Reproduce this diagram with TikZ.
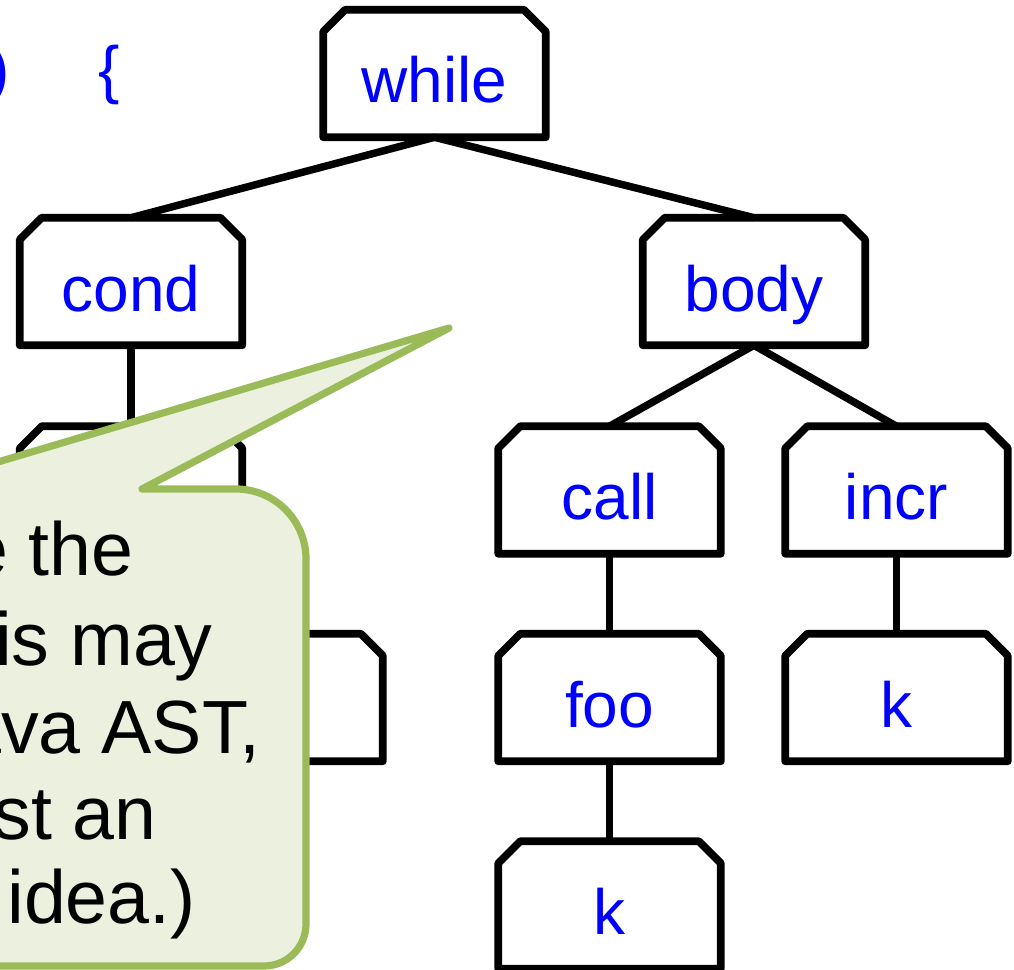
\documentclass[tikz,border=0pt]{standalone}
\usepackage{fontspec}
\newfontfamily\arialf{Liberation Sans}
\usetikzlibrary{shadows}
\definecolor{cgreen}{RGB}{155,187,89}
\definecolor{cfill}{RGB}{235,241,222}
\definecolor{codeblue}{RGB}{0,0,255}
\tikzset{
 astnode/.style={rectangle, minimum width=166.5pt, minimum height=95.25pt, inner sep=0pt,
   text height=44.25pt, text depth=0pt, text=codeblue, font=\arialf\fontsize{48}{58}\selectfont},
 boxline/.style={draw=black, line width=5.8pt, line join=round},
 edge/.style={draw=black, line width=5.6pt},
 callout/.style={draw=cgreen, fill=cfill, line width=5.4pt, line join=round},
 notetext/.style={inner sep=0pt, anchor=base east, text=black, font=\arialf\fontsize{56.5}{68}\selectfont},
 codetext/.style={inner sep=0pt, text=codeblue, font=\arialf\fontsize{48}{58}\selectfont}
}
\newcommand\astbox[4]{%
 \node[astnode] (#1) at (#2,#3) {#4};
 \draw[boxline] (#1.south west) -- ([yshift=-16.5pt]#1.north west) -- ([xshift=16.5pt]#1.north west)
   -- ([xshift=-16.5pt]#1.north east) -- ([yshift=-16.5pt]#1.north east) -- (#1.south east) -- cycle;
}
\begin{document}
\begin{tikzpicture}[x=0.75pt,y=-0.75pt]
\useasboundingbox (0,0) rectangle (1014,970);
\clip (0,0) rectangle (1014,970);

% code fragment
\node[codetext, anchor=base east] (paren) at (10,92) {)};
\node[codetext, anchor=base west] (brace) at (98,92) {\{};

% AST nodes
\astbox{while}{434.5}{73.5}{while}
\astbox{cond}{131}{281.5}{cond}
\astbox{body}{754}{281.5}{body}
\astbox{h1}{131}{490}{}
\astbox{call}{609.5}{490}{call}
\astbox{incr}{896.5}{490}{incr}
\astbox{h2}{271.5}{697.5}{}
\astbox{foo}{609.5}{697.5}{foo}
\astbox{k1}{896.5}{697.5}{k}
\astbox{k2}{609.5}{905}{k}

% connectors
\draw[edge] (while.south) -- (cond.north);
\draw[edge] (while.south) -- (body.north);
\draw[edge] (cond.south) -- (h1.north);
\draw[edge] (h1.south) -- (h2.north);
\draw[edge] (body.south) -- (call.north);
\draw[edge] (body.south) -- (incr.north);
\draw[edge] (call.south) -- (foo.north);
\draw[edge] (foo.south) -- (k2.north);
\draw[edge] (incr.south) -- (k1.north);

% callout
\coordinate (tip) at (449,328);
\draw[callout, drop shadow={opacity=0.15, shadow xshift=2pt, shadow yshift=-2pt}]
  (-400,966) -- (-400,489) -- (-93,489) -- (tip) -- (142,489) -- (236,489)
  .. controls (274.6,489) and (306,520.4) .. (306,559) -- (306,924)
  .. controls (306,947.2) and (287.2,966) .. (264,966) -- cycle;

\node[notetext] (l1) at (134,575) {e the};
\node[notetext] (l2) at (213,665) {is may};
\node[notetext] (l3) at (261,753) {ava AST,};
\node[notetext] (l4) at (157,839) {st an};
\node[notetext] (l5) at (196,923) {idea.)};
\end{tikzpicture}
\end{document}
